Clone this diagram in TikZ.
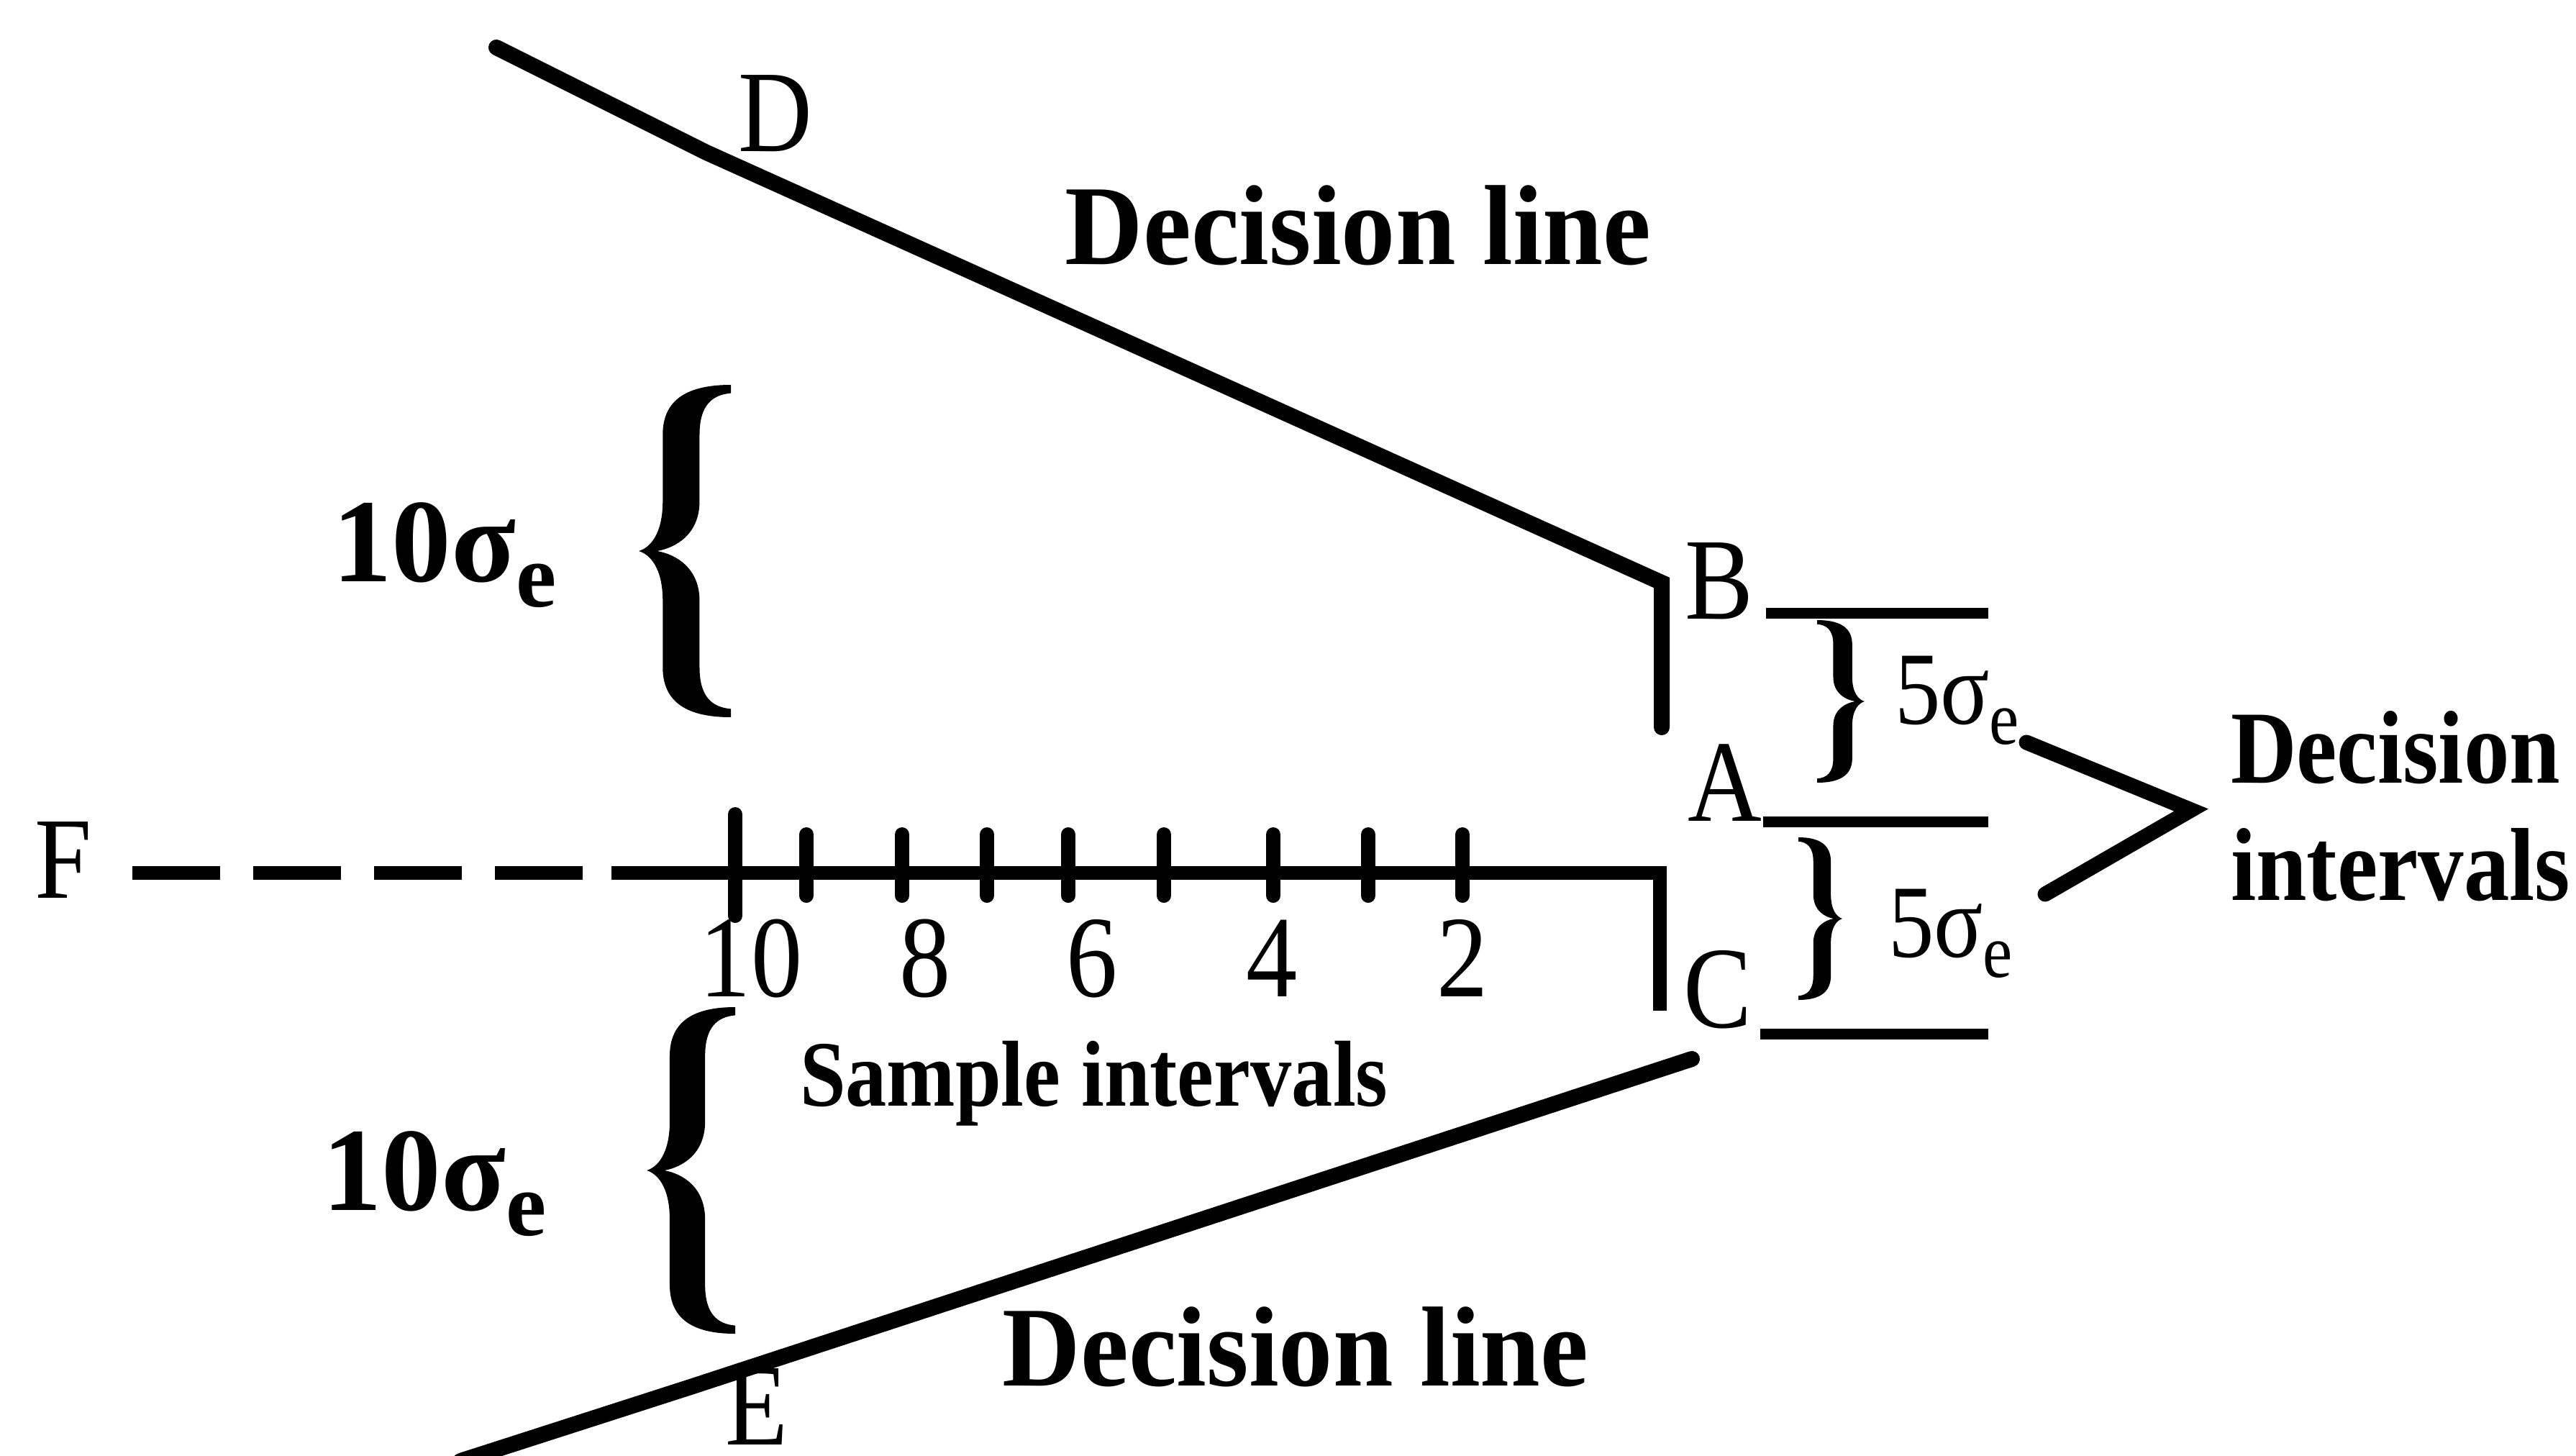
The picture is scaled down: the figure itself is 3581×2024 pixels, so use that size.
\documentclass[tikz,border=0pt]{standalone}
\usepackage{fontspec}
\setmainfont{Liberation Serif}
\usepackage{graphicx}
\newcommand\hsq[1]{\scalebox{0.88}[1]{#1}}
\newcommand\hsqh[1]{\scalebox{0.95}[1]{#1}}
\begin{document}
\begin{tikzpicture}[x=0.01cm,y=-0.01cm,
  every node/.style={inner sep=0pt,outer sep=0pt},
  letter/.style={font={\fontsize{46}{50}\selectfont}},
  digit/.style={font={\fontsize{46}{50}\selectfont}},
  heading/.style={font={\fontsize{45}{50}\selectfont\bfseries}},
  smalllbl/.style={font={\fontsize{37}{42}\selectfont\bfseries}},
  sigbig/.style={font={\fontsize{47}{50}\selectfont\bfseries}},
  sigsmall/.style={font={\fontsize{41}{45}\selectfont}},
  side/.style={font={\fontsize{41}{45}\selectfont\bfseries}},
  dline/.style={line width=2.2mm,line cap=round,line join=miter},
  axisline/.style={line width=1.9mm},
  tickline/.style={line width=2mm,line cap=round},
  levline/.style={line width=1.5mm},
  chev/.style={line width=2.1mm,line cap=round,line join=miter},
  bracesh/.pic={
    \fill (1,1) .. controls (0.55,1) and (0.26,0.92) .. (0.26,0.7)
      -- (0.26,0.3) .. controls (0.26,0.1) and (0.12,0.02) .. (0,0)
      .. controls (0.12,-0.02) and (0.26,-0.1) .. (0.26,-0.3)
      -- (0.26,-0.7) .. controls (0.26,-0.92) and (0.55,-1) .. (1,-1)
      -- (1,-0.95) .. controls (0.8,-0.94) and (0.66,-0.88) .. (0.66,-0.7)
      -- (0.66,-0.3) .. controls (0.66,-0.1) and (0.4,-0.02) .. (0.2,0)
      .. controls (0.4,0.02) and (0.66,0.1) .. (0.66,0.3)
      -- (0.66,0.7) .. controls (0.66,0.88) and (0.8,0.94) .. (1,0.95) -- cycle;
  }
]
\useasboundingbox (0,0) rectangle (3581,2024);

% upper decision line
\coordinate (dTop) at (690,66);
\coordinate (dKink) at (982,212);
\coordinate (bCorner) at (2310,810);
\coordinate (bFoot) at (2310,1011);
\draw[dline] (dTop) -- (dKink) -- (bCorner) -- (bFoot);

% lower decision line
\coordinate (eStart) at (640,2031);
\coordinate (eKink) at (960,1928);
\coordinate (cEnd) at (2352,1472);
\draw[dline] (eStart) -- (eKink) -- (cEnd);

% time axis
\coordinate (dashStart) at (184,1213);
\coordinate (solidStart) at (850,1213);
\coordinate (axCorner) at (2307,1213);
\coordinate (cFoot) at (2307,1405);
\draw[axisline,dash pattern=on 1.22cm off 0.46cm] (dashStart) -- (solidStart);
\draw[axisline,line join=miter] (solidStart) -- (axCorner) -- (cFoot);
\draw[tickline] (1022,1132) -- (1022,1273);
\foreach \x in {1121,1254,1372,1485,1618,1770,1902,2033}
  \draw[tickline] (\x,1160) -- (\x,1245);

% level lines
\coordinate (bL) at (2455,852);  \coordinate (bR) at (2764,852);
\coordinate (aL) at (2451,1142); \coordinate (aR) at (2764,1142);
\coordinate (cL) at (2447,1437); \coordinate (cR) at (2764,1437);
\draw[levline] (bL) -- (bR);
\draw[levline] (aL) -- (aR);
\draw[levline] (cL) -- (cR);

% chevron
\coordinate (ch1) at (2817,1032);
\coordinate (ch2) at (3046,1126);
\coordinate (ch3) at (2843,1243);
\draw[chev] (ch1) -- (ch2) -- (ch3);

% braces
\pic[xscale=128,yscale=231] at (888,766) {bracesh};
\pic[xscale=123,yscale=227] at (899,1627) {bracesh};
\pic[xscale=-66,yscale=113] at (2592,975) {bracesh};
\pic[xscale=-61,yscale=113] at (2561,1277) {bracesh};

% labels
\node[letter,anchor=base] (D) at (1078,210) {\hsq{D}};
\node[heading,anchor=base] (toplbl) at (1888,367) {\hsqh{Decision line}};
\node[letter,anchor=base] (B) at (2390,860) {\hsq{B}};
\node[letter,anchor=base] (A) at (2398,1141) {\hsq{A}};
\node[letter,anchor=base] (C) at (2388,1428) {\hsq{C}};
\node[letter,anchor=base] (E) at (1052,2008) {\hsq{E}};
\node[letter,anchor=base] (F) at (88,1248) {\hsq{F}};
\foreach \x/\t in {1044/10,1286/8,1518/6,1768/4,2033/2}
  \node[digit,anchor=base] (n\t) at (\x,1385) {\hsq{\t}};
\node[smalllbl,anchor=base west] (samp) at (1112,1537) {\hsq{Sample intervals}};
\node[heading,anchor=base] (botlbl) at (1801,1926) {\hsqh{Decision line}};
\node[sigbig,anchor=base west] (s1) at (462,808) {10σ\raisebox{-10pt}{\fontsize{36}{36}\selectfont e}};
\node[sigbig,anchor=base west] (s2) at (448,1682) {10σ\raisebox{-10pt}{\fontsize{36}{36}\selectfont e}};
\node[sigsmall,anchor=base west] (f1) at (2634,1006) {\hsq{5σ\raisebox{-8pt}{\fontsize{30}{30}\selectfont e}}};
\node[sigsmall,anchor=base west] (f2) at (2625,1330) {\hsq{5σ\raisebox{-8pt}{\fontsize{30}{30}\selectfont e}}};
\node[side,anchor=base west] (di1) at (3101,1088) {\hsq{Decision}};
\node[side,anchor=base west] (di2) at (3101,1251) {\hsq{intervals}};
\end{tikzpicture}
\end{document}
